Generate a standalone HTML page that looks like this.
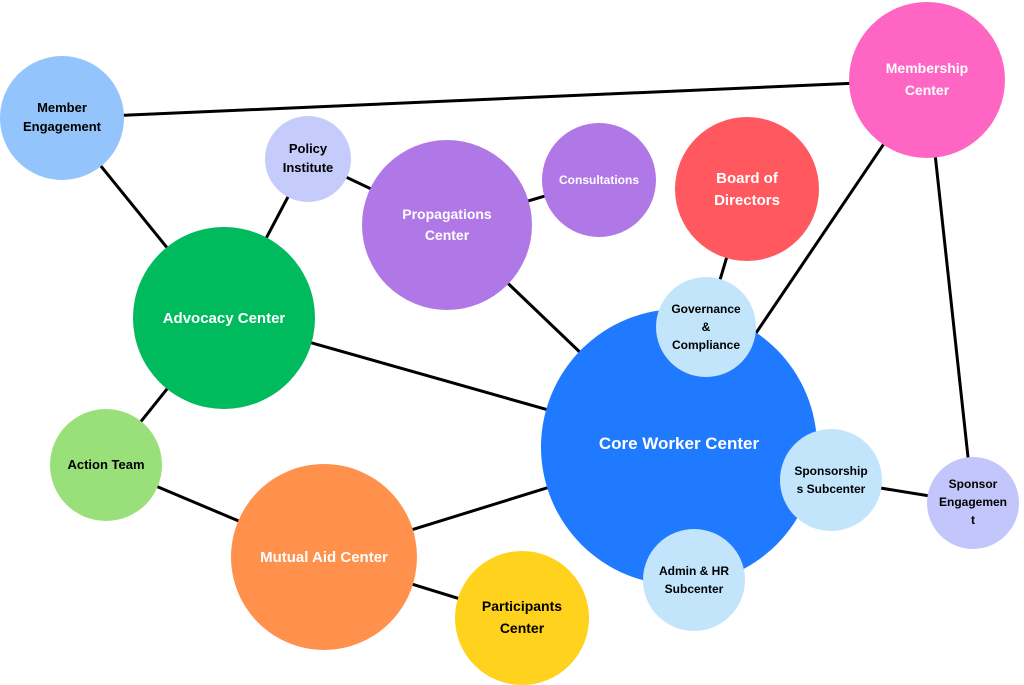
<!DOCTYPE html>
<html><head><meta charset="utf-8"><style>
html,body{margin:0;padding:0;background:#fff;}
svg{display:block;}
text{font-family:"Liberation Sans",Arial,sans-serif;font-weight:bold;text-anchor:middle;}
</style></head><body>
<svg width="1024" height="685" viewBox="0 0 1024 685">
<g stroke="#000" stroke-width="3">
<line x1="62" y1="118" x2="927" y2="80"/>
<line x1="62" y1="118" x2="224" y2="318"/>
<line x1="308" y1="159" x2="224" y2="318"/>
<line x1="308" y1="159" x2="447" y2="225"/>
<line x1="447" y1="225" x2="599" y2="180"/>
<line x1="447" y1="225" x2="679" y2="447"/>
<line x1="747" y1="189" x2="706" y2="327"/>
<line x1="927" y1="80" x2="679" y2="447"/>
<line x1="927" y1="80" x2="973" y2="503"/>
<line x1="224" y1="318" x2="679" y2="447"/>
<line x1="224" y1="318" x2="106" y2="465"/>
<line x1="106" y1="465" x2="324" y2="557"/>
<line x1="324" y1="557" x2="679" y2="447"/>
<line x1="324" y1="557" x2="522" y2="618"/>
<line x1="831" y1="480" x2="973" y2="503"/>
</g>
<circle cx="62" cy="118" r="62" fill="#93c4fb"/>
<circle cx="308" cy="159" r="43" fill="#c5cbfb"/>
<circle cx="447" cy="225" r="85" fill="#b078e6"/>
<circle cx="599" cy="180" r="57" fill="#b078e6"/>
<circle cx="747" cy="189" r="72" fill="#ff585e"/>
<circle cx="927" cy="80" r="78" fill="#ff66c4"/>
<circle cx="224" cy="318" r="91" fill="#00ba5e"/>
<circle cx="106" cy="465" r="56" fill="#99e07a"/>
<circle cx="679" cy="447" r="138" fill="#1f7aff"/>
<circle cx="706" cy="327" r="50" fill="#c2e5fc"/>
<circle cx="831" cy="480" r="51" fill="#c2e5fc"/>
<circle cx="694" cy="580" r="51" fill="#c2e5fc"/>
<circle cx="973" cy="503" r="46" fill="#c3c6fb"/>
<circle cx="324" cy="557" r="93" fill="#ff914d"/>
<circle cx="522" cy="618" r="67" fill="#ffd21e"/>
<g font-size="13" fill="#000">
<text x="62" y="112">Member</text><text x="62" y="131">Engagement</text>
<text x="308" y="153">Policy</text><text x="308" y="172">Institute</text>
<text x="106" y="469">Action Team</text>
<text x="706" y="313" font-size="12">Governance</text><text x="706" y="331" font-size="12">&amp;</text><text x="706" y="349" font-size="12">Compliance</text>
<text x="831" y="475" font-size="12">Sponsorship</text><text x="831" y="493" font-size="12">s Subcenter</text>
<text x="694" y="575" font-size="12">Admin &amp; HR</text><text x="694" y="593" font-size="12">Subcenter</text>
<text x="973" y="488" font-size="12">Sponsor</text><text x="973" y="506" font-size="12">Engagemen</text><text x="973" y="524" font-size="12">t</text>
<text x="522" y="611" font-size="14">Participants</text><text x="522" y="633" font-size="14">Center</text>
</g>
<g fill="#fff">
<text x="447" y="219" font-size="14">Propagations</text><text x="447" y="240" font-size="14">Center</text>
<text x="599" y="184" font-size="12">Consultations</text>
<text x="747" y="183" font-size="15">Board of</text><text x="747" y="205" font-size="15">Directors</text>
<text x="927" y="73" font-size="14">Membership</text><text x="927" y="95" font-size="14">Center</text>
<text x="224" y="323" font-size="15">Advocacy Center</text>
<text x="679" y="449" font-size="17">Core Worker Center</text>
<text x="324" y="562" font-size="15">Mutual Aid Center</text>
</g>
</svg>
</body></html>
